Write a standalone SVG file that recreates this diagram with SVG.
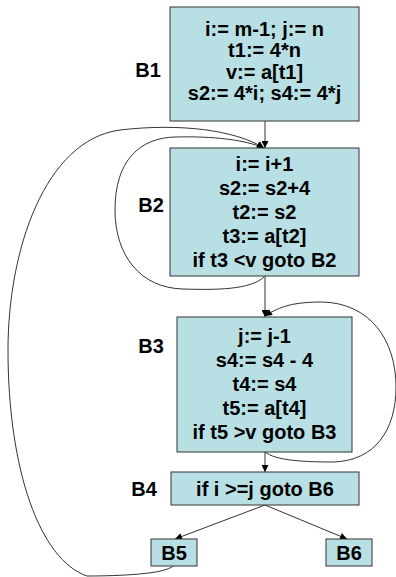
<svg xmlns="http://www.w3.org/2000/svg" width="396" height="577" viewBox="0 0 396 577">
<style>
.box{fill:#b8e0e4;stroke:#333;stroke-width:1}
.t{font-family:"Liberation Sans",Arial,sans-serif;font-weight:bold;font-size:20px;fill:#000;text-anchor:middle}
.c{fill:none;stroke:#333;stroke-width:1}
</style>
<defs>
<marker id="ah" viewBox="0 0 10 10" refX="10" refY="5" markerWidth="8" markerHeight="7" markerUnits="userSpaceOnUse" orient="auto">
<path d="M0,0 L10,5 L0,10 Z" fill="#000"/>
</marker>
</defs>
<rect width="396" height="577" fill="#fff"/>
<g id="connectors">
<line class="c" x1="265" y1="121" x2="265" y2="148" marker-end="url(#ah)"/>
<line class="c" x1="265" y1="276" x2="265" y2="317" marker-end="url(#ah)"/>
<line class="c" x1="265" y1="452" x2="265" y2="472" marker-end="url(#ah)"/>
<line class="c" x1="265" y1="505" x2="175" y2="539" marker-end="url(#ah)"/>
<line class="c" x1="265" y1="505" x2="347" y2="539" marker-end="url(#ah)"/>
<path class="c" d="M264,277 C250,290 215,290 183,289 C140,288 115,255 115,210 C115,160 140,138 175,137 C215,136 245,140 264,148" marker-end="url(#ah)"/>
<path class="c" d="M265,452 C275,460 300,462 333,462 C375,461 396,430 396,387 C396,340 370,303 322,302 C295,302 280,306 265,316" marker-end="url(#ah)"/>
<path class="c" d="M173,566 C165,574 120,576 87,576 C40,560 8,470 8,350 C8,250 45,140 120,130 C180,123 235,130 264,148" marker-end="url(#ah)"/>
</g>
<g id="B1">
<rect class="box" x="170" y="7" width="189" height="114"/>
<text class="t" x="264.5" y="36">i:= m-1; j:= n</text>
<text class="t" x="264.5" y="57">t1:= 4*n</text>
<text class="t" x="264.5" y="79">v:= a[t1]</text>
<text class="t" x="264.5" y="100">s2:= 4*i; s4:= 4*j</text>
<text class="t" x="148" y="77">B1</text>
</g>
<g id="B2">
<rect class="box" x="170" y="148" width="189" height="128"/>
<text class="t" x="264.5" y="171">i:= i+1</text>
<text class="t" x="264.5" y="195">s2:= s2+4</text>
<text class="t" x="264.5" y="219">t2:= s2</text>
<text class="t" x="264.5" y="243">t3:= a[t2]</text>
<text class="t" x="264.5" y="267">if t3 &lt;v goto B2</text>
<text class="t" x="151" y="212">B2</text>
</g>
<g id="B3">
<rect class="box" x="177" y="317" width="175" height="135"/>
<text class="t" x="264.5" y="343">j:= j-1</text>
<text class="t" x="264.5" y="367">s4:= s4 - 4</text>
<text class="t" x="264.5" y="391">t4:= s4</text>
<text class="t" x="264.5" y="415">t5:= a[t4]</text>
<text class="t" x="264.5" y="439">if t5 &gt;v goto B3</text>
<text class="t" x="151" y="353">B3</text>
</g>
<g id="B4">
<rect class="box" x="171" y="472" width="188" height="33"/>
<text class="t" x="265" y="495.5">if i &gt;=j goto B6</text>
<text class="t" x="144" y="495.5">B4</text>
</g>
<g id="B5">
<rect class="box" x="151" y="539" width="46" height="27"/>
<text class="t" x="174" y="559.5">B5</text>
</g>
<g id="B6">
<rect class="box" x="326" y="539" width="46" height="27"/>
<text class="t" x="349" y="559.5">B6</text>
</g>
</svg>
